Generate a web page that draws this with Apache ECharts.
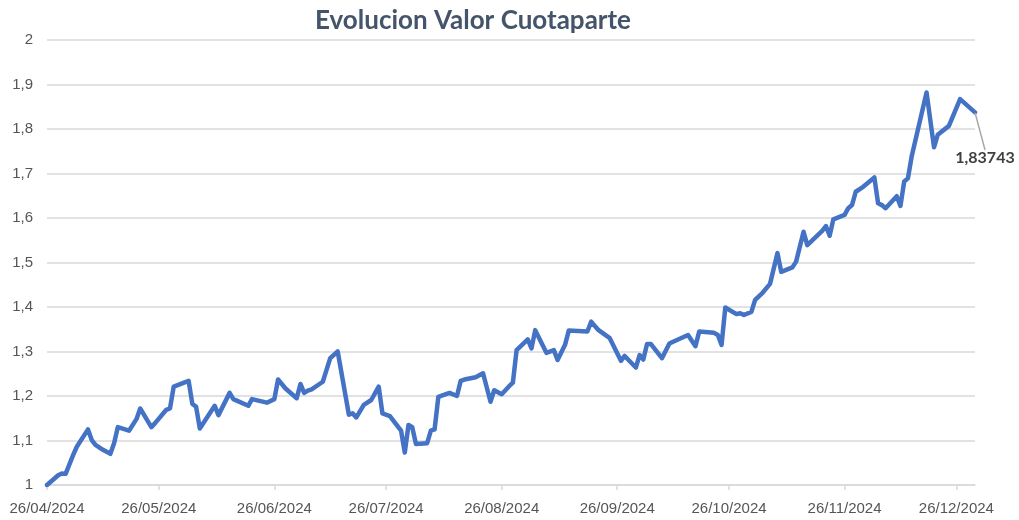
<!DOCTYPE html>
<html>
<head>
<meta charset="utf-8">
<script src="https://cdn.jsdelivr.net/npm/echarts@6/dist/echarts.min.js"></script>
<style>
html,body{margin:0;padding:0;background:#fff;}
#chart{width:1019px;height:520px;}
</style>
</head>
<body>
<div id="chart"></div>
<script>
const dates = [
'26/04/2024','29/04/2024','30/04/2024','01/05/2024','03/05/2024','04/05/2024','07/05/2024','08/05/2024','09/05/2024','11/05/2024',
'13/05/2024','14/05/2024','15/05/2024','18/05/2024','20/05/2024','21/05/2024','24/05/2024','25/05/2024','28/05/2024','29/05/2024',
'30/05/2024','03/06/2024','04/06/2024','05/06/2024','06/06/2024','10/06/2024','11/06/2024','14/06/2024','15/06/2024','19/06/2024',
'20/06/2024','24/06/2024','26/06/2024','27/06/2024','29/06/2024','02/07/2024','03/07/2024','04/07/2024','05/07/2024','06/07/2024',
'09/07/2024','11/07/2024','13/07/2024','16/07/2024','17/07/2024','18/07/2024','20/07/2024','22/07/2024','24/07/2024','25/07/2024',
'27/07/2024','30/07/2024','31/07/2024','01/08/2024','02/08/2024','03/08/2024','06/08/2024','07/08/2024','08/08/2024','09/08/2024',
'12/08/2024','14/08/2024','15/08/2024','16/08/2024','19/08/2024','21/08/2024','23/08/2024','24/08/2024','26/08/2024','28/08/2024',
'29/08/2024','30/08/2024','02/09/2024','03/09/2024','04/09/2024','07/09/2024','09/09/2024','10/09/2024','12/09/2024','13/09/2024',
'18/09/2024','19/09/2024','21/09/2024','24/09/2024','27/09/2024','28/09/2024','01/10/2024','02/10/2024','03/10/2024','04/10/2024',
'05/10/2024','08/10/2024','10/10/2024','11/10/2024','15/10/2024','17/10/2024','18/10/2024','22/10/2024','23/10/2024','24/10/2024',
'25/10/2024','28/10/2024','29/10/2024','30/10/2024','01/11/2024','02/11/2024','04/11/2024','06/11/2024','08/11/2024','09/11/2024',
'12/11/2024','13/11/2024','15/11/2024','16/11/2024','20/11/2024','21/11/2024','22/11/2024','23/11/2024','26/11/2024','27/11/2024',
'28/11/2024','29/11/2024','01/12/2024','04/12/2024','05/12/2024','06/12/2024','07/12/2024','10/12/2024','11/12/2024','12/12/2024',
'13/12/2024','14/12/2024','18/12/2024','20/12/2024','21/12/2024','24/12/2024','27/12/2024','31/12/2024'
];
const values = [
1.000,1.022,1.026,1.025,1.067,1.086,1.125,1.101,1.090,1.079,
1.070,1.094,1.130,1.122,1.148,1.172,1.130,1.139,1.169,1.172,
1.221,1.234,1.182,1.176,1.127,1.178,1.157,1.207,1.193,1.178,
1.193,1.185,1.193,1.237,1.217,1.195,1.227,1.207,1.212,1.215,
1.232,1.285,1.300,1.158,1.161,1.152,1.180,1.191,1.221,1.161,
1.155,1.122,1.073,1.135,1.130,1.092,1.094,1.122,1.125,1.198,
1.207,1.200,1.234,1.237,1.242,1.251,1.187,1.213,1.204,1.222,
1.230,1.303,1.327,1.307,1.348,1.297,1.303,1.281,1.315,1.347,
1.345,1.367,1.348,1.330,1.279,1.290,1.264,1.292,1.282,1.317,
1.317,1.285,1.318,1.322,1.337,1.312,1.345,1.342,1.337,1.315,
1.399,1.384,1.386,1.382,1.389,1.416,1.432,1.452,1.521,1.479,
1.489,1.502,1.569,1.539,1.571,1.582,1.560,1.597,1.607,1.622,
1.629,1.659,1.670,1.691,1.633,1.629,1.622,1.649,1.627,1.682,
1.689,1.738,1.882,1.759,1.787,1.807,1.867,1.83743
];
const tickLabels = ['26/04/2024','26/05/2024','26/06/2024','26/07/2024','26/08/2024','26/09/2024','26/10/2024','26/11/2024','26/12/2024'];
const axisStart = '26/04/2024';
const axisEnd = '31/12/2024';
const titleText = 'Evolucion Valor Cuotaparte';

function parseDate(s){ const p = s.split('/').map(Number); return new Date(p[2], p[1]-1, p[0]); }
function fmtDate(d){ const pad = n => (n<10?'0':'')+n; return pad(d.getDate())+'/'+pad(d.getMonth()+1)+'/'+d.getFullYear(); }
function fmtNum(v){ return String(v).replace('.', ','); }

// Calendar of every day on the date axis
const allDays = [];
for (let d = parseDate(axisStart); d <= parseDate(axisEnd); d = new Date(d.getFullYear(), d.getMonth(), d.getDate() + 1)) {
  allDays.push(fmtDate(d));
}
const valueByDate = {};
dates.forEach((d, i) => { valueByDate[d] = values[i]; });
const lastDate = dates[dates.length - 1];
const seriesData = allDays.map(d => {
  if (!(d in valueByDate)) return null;
  const item = { value: valueByDate[d] };
  if (d === lastDate) {
    item.symbol = 'circle';
    item.symbolSize = 1;
    item.label = {
      show: true,
      position: 'bottom',
      formatter: p => fmtNum(p.value),
      color: '#404040',
      fontFamily: 'Lato, "Liberation Sans", sans-serif',
      fontWeight: 'bold',
      fontSize: 16
    };
  }
  return item;
});
const isTick = (idx, val) => tickLabels.indexOf(val) >= 0;

const chart = echarts.init(document.getElementById('chart'), null, { renderer: 'canvas' });
chart.setOption({
  animation: false,
  backgroundColor: '#ffffff',
  title: {
    text: titleText,
    left: 468,
    top: 3,
    textAlign: 'center',
    textStyle: { fontFamily: 'Lato, "Liberation Sans", sans-serif', fontWeight: 'bold', fontSize: 26, color: '#44546A' }
  },
  grid: { left: 47, right: 44, top: 40, bottom: 35, containLabel: false },
  xAxis: {
    type: 'category',
    data: allDays,
    boundaryGap: false,
    axisLine: { show: true, lineStyle: { color: '#d9d9d9', width: 1.5 } },
    axisTick: { show: true, interval: isTick, length: 5, lineStyle: { color: '#d9d9d9', width: 1.5 } },
    axisLabel: {
      interval: isTick,
      color: '#555555',
      fontFamily: '"Liberation Sans", Arial, sans-serif',
      fontSize: 15,
      margin: 16
    },
    splitLine: { show: false }
  },
  yAxis: {
    type: 'value',
    min: 1,
    max: 2,
    interval: 0.1,
    axisLine: { show: false },
    axisTick: { show: false },
    axisLabel: {
      formatter: v => fmtNum(Math.round(v*10)/10),
      color: '#555555',
      fontFamily: '"Liberation Sans", Arial, sans-serif',
      fontSize: 15,
      margin: 14
    },
    splitLine: { show: true, lineStyle: { color: '#d9d9d9', width: 1.5 } }
  },
  series: [{
    type: 'line',
    data: seriesData,
    connectNulls: true,
    showSymbol: true,
    showAllSymbol: true,
    symbol: 'none',
    lineStyle: { color: '#4472C4', width: 4.5, join: 'round', cap: 'round' },
    itemStyle: { color: '#4472C4' },
    labelLayout: { dx: 10, dy: 32 },
    labelLine: { show: true, lineStyle: { color: '#a6a6a6', width: 1.5 } }
  }]
});
</script>
</body>
</html>
